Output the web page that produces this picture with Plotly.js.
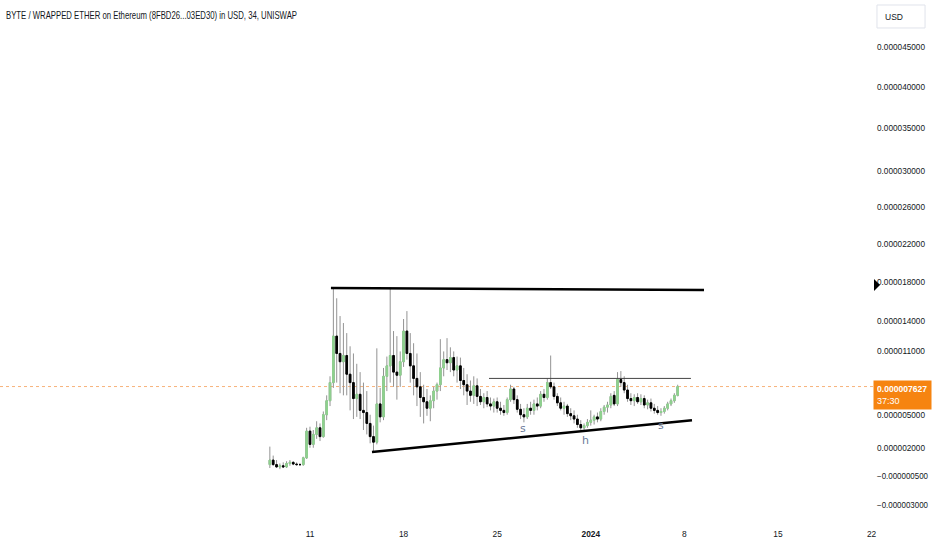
<!DOCTYPE html>
<html>
<head>
<meta charset="utf-8">
<script src="https://cdn.plot.ly/plotly-3.0.1.min.js"></script>
<style>
  html, body { margin: 0; padding: 0; background: #ffffff; }
  #chart { width: 932px; height: 550px; }
</style>
</head>
<body>
<div id="chart"></div>
<script>
// ---- data (prices in micro-USD, i.e. value * 1e-6) ----
const SCALE = 1e-6;
const START = Date.UTC(2023, 11, 8, 0, 0, 0);   // first candle open time
const STEP_HOURS = 6;                            // candle interval

const open = [0.5,0.9,0.5,0.3,0.4,0.3,0.6,0.7,0.55,0.5,
  0.5,1.1,3.5,2.3,3.2,3.8,3.0,5.0,6.3,8.0,
  12.5,10.8,10.0,10.6,8.8,8.0,6.5,6.9,5.4,5.2,
  4.2,3.0,2.5,6.0,4.8,8.6,9.6,10.6,9.0,8.7,
  10.0,13.0,10.8,9.6,8.4,7.6,6.6,6.2,5.6,6.3,
  7.2,7.8,9.4,10.2,9.9,10.4,9.2,9.6,8.2,7.8,
  7.2,6.8,7.7,6.7,6.2,6.6,6.0,5.8,6.2,5.6,
  5.4,5.2,6.4,7.4,6.4,5.5,5.0,4.8,5.6,5.4,
  6.0,5.8,6.9,6.6,8.0,7.6,6.7,6.1,5.6,5.8,
  5.1,4.9,4.6,4.1,3.8,4.0,4.3,4.5,4.8,4.6,
  5.3,5.7,5.9,6.8,6.0,8.3,8.0,7.3,6.5,6.3,
  6.6,6.2,6.5,5.9,6.1,5.6,5.4,5.2,5.3,5.6,
  6.0,6.3,6.8];
const high = [2.1,1.3,0.9,0.6,0.7,0.8,0.9,0.8,0.7,0.65,
  1.2,3.8,3.9,3.6,4.4,4.2,5.3,6.8,8.6,17.4,
  16.3,14.5,13.8,12.8,11.5,10.8,9.8,9.0,8.0,7.2,
  5.0,4.0,11.3,7.5,9.4,10.5,17.4,13.0,12.5,11.0,
  14.2,15.0,12.8,11.8,10.8,9.0,7.8,7.4,6.8,7.6,
  8.0,12.2,11.0,12.3,11.4,11.0,10.5,10.4,9.4,8.8,
  8.2,8.6,8.4,7.4,7.0,7.2,6.6,6.5,6.6,6.2,
  5.9,6.6,7.8,7.6,6.8,6.0,5.6,6.0,6.2,6.4,
  6.6,7.2,7.4,8.4,10.6,8.0,7.0,6.6,6.2,6.0,
  5.6,5.4,5.0,4.5,4.2,4.6,5.4,5.0,5.2,5.6,
  5.9,6.2,7.0,7.2,9.0,9.1,8.6,7.8,7.0,6.9,
  7.0,6.9,6.8,6.4,6.5,6.0,5.8,5.6,5.8,6.2,
  6.5,7.0,7.8];
const low = [0.2,0.4,0.2,0.1,0.2,0.2,0.4,0.45,0.4,0.4,
  0.4,1.0,2.0,2.0,2.8,2.6,2.9,4.5,5.8,7.5,
  8.0,7.0,6.8,6.8,5.4,4.6,4.8,4.6,3.6,3.2,
  2.4,1.7,2.3,4.3,4.5,7.2,8.0,7.6,6.4,7.6,
  9.5,10.2,8.0,6.8,5.8,4.8,4.2,4.9,4.4,5.6,
  6.4,7.2,8.6,9.2,9.0,8.6,8.0,7.4,6.8,5.9,
  6.2,6.0,5.8,5.9,5.6,5.7,5.4,5.2,5.2,5.0,
  4.9,5.0,6.2,6.0,5.2,4.6,4.3,4.6,5.0,5.0,
  5.4,5.6,6.2,6.4,7.4,6.4,5.8,5.4,5.0,4.8,
  4.5,4.2,3.8,3.6,3.5,3.8,4.0,4.1,4.3,4.4,
  5.0,5.2,5.6,5.8,5.8,7.6,7.0,6.2,5.9,5.8,
  6.0,5.9,5.6,5.5,5.3,5.1,5.0,4.9,5.1,5.4,
  5.8,6.1,6.7];
const close = [0.9,0.5,0.3,0.4,0.3,0.6,0.7,0.55,0.5,0.5,
  1.1,3.5,2.3,3.2,3.8,3.0,5.0,6.3,8.0,12.5,
  10.8,10.0,10.6,8.8,8.0,6.5,6.9,5.4,5.2,4.2,
  3.0,2.5,6.0,4.8,8.6,9.6,10.6,9.0,8.7,10.0,
  13.0,10.8,9.6,8.4,7.6,6.6,6.2,5.6,6.3,7.2,
  7.8,9.4,10.2,9.9,10.4,9.2,9.6,8.2,7.8,7.2,
  6.8,7.7,6.7,6.2,6.6,6.0,5.8,6.2,5.6,5.4,
  5.2,6.4,7.4,6.4,5.5,5.0,4.8,5.6,5.4,6.0,
  5.8,6.9,6.6,8.0,7.6,6.7,6.1,5.6,5.8,5.1,
  4.9,4.6,4.1,3.8,4.0,4.3,4.5,4.8,4.6,5.3,
  5.7,5.9,6.7,6.0,8.3,8.0,7.3,6.5,6.3,6.6,
  6.2,6.5,5.9,6.1,5.6,5.4,5.2,5.3,5.6,6.0,
  6.3,6.8,7.627];

// price axis ticks (micro-USD) and their labels
const yTickValues = [45, 40, 35, 30, 26, 22, 18, 14, 11, 5, 2, -0.5, -3];
const yTickLabels = ["0.000045000","0.000040000","0.000035000","0.000030000","0.000026000",
  "0.000022000","0.000018000","0.000014000","0.000011000","0.000005000","0.000002000",
  "\u22120.000000500","\u22120.000003000"];
// time axis ticks
const xTickDates = ["2023-12-11","2023-12-18","2023-12-25","2024-01-01","2024-01-08","2024-01-15","2024-01-22"];
const xTickLabels = ["11","18","25","<b>2024</b>","8","15","22"];

const LAST_PRICE = 7.627;
const LAST_PRICE_TEXT = "0.000007627";
const COUNTDOWN = "37:30";
const TITLE = "BYTE / WRAPPED ETHER on Ethereum (8FBD26...03ED30) in USD, 34, UNISWAP";

// drawings: [date, price(micro)]
const upperLine = [["2023-12-12 13:40", 17.35], ["2024-01-09 11:15", 17.15]];
const lowerLine = [["2023-12-15 15:20", 1.62], ["2024-01-08 13:40", 4.5]];
const neckLine  = [["2023-12-24 09:20", 8.4], ["2024-01-08 11:45", 8.4]];
const patternLabels = [["s", "2023-12-26 22:20", 3.75], ["h", "2023-12-31 15:20", 2.65], ["s", "2024-01-06 06:00", 4.0]];

// The price scale of the reference is a shifted log scale: log(price + OFFSET)
const OFFSET = 1e-4;
const Y = v => v * SCALE + OFFSET;          // data value for the log axis
const LY = v => Math.log10(Y(v));           // range / annotation coordinate

function fmt(ms) { return new Date(ms).toISOString().slice(0, 19).replace('T', ' '); }
const times = open.map((_, i) => fmt(START + i * STEP_HOURS * 3600 * 1000));

const FONT = "'Liberation Sans', Arial, sans-serif";
const wickGray = '#939393';

const wicks = {
  type: 'candlestick', x: times,
  open: open.map(Y), high: high.map(Y), low: low.map(Y), close: close.map(Y),
  increasing: { line: { color: wickGray, width: 1 }, fillcolor: wickGray },
  decreasing: { line: { color: wickGray, width: 1 }, fillcolor: wickGray },
  whiskerwidth: 0, showlegend: false, hoverinfo: 'skip'
};
const bodies = {
  type: 'candlestick', x: times,
  open: open.map(Y), close: close.map(Y),
  high: open.map((o, i) => Y(Math.max(o, close[i]))),
  low: open.map((o, i) => Y(Math.min(o, close[i]))),
  increasing: { line: { color: '#8fd18f', width: 1 }, fillcolor: '#8fd18f' },
  decreasing: { line: { color: '#000000', width: 1 }, fillcolor: '#000000' },
  whiskerwidth: 0, showlegend: false, hoverinfo: 'skip'
};

const shapes = [
  { type: 'line', xref: 'paper', yref: 'y', x0: 0, x1: 1, y0: Y(LAST_PRICE), y1: Y(LAST_PRICE),
    line: { color: '#f7b27a', width: 1, dash: 'dot' }, layer: 'below' },
  { type: 'line', xref: 'x', yref: 'y', x0: upperLine[0][0], y0: Y(upperLine[0][1]), x1: upperLine[1][0], y1: Y(upperLine[1][1]),
    line: { color: '#000000', width: 2.5 } },
  { type: 'line', xref: 'x', yref: 'y', x0: lowerLine[0][0], y0: Y(lowerLine[0][1]), x1: lowerLine[1][0], y1: Y(lowerLine[1][1]),
    line: { color: '#000000', width: 2.5 } },
  { type: 'line', xref: 'x', yref: 'y', x0: neckLine[0][0], y0: Y(neckLine[0][1]), x1: neckLine[1][0], y1: Y(neckLine[1][1]),
    line: { color: '#444444', width: 1 } },
  // marker on price scale
  { type: 'path', xref: 'paper', yref: 'paper', path: 'M 1.0 0.4696 L 1.0069 0.4582 L 1.0 0.4468 Z',
    fillcolor: '#000000', line: { width: 0 } },
  // USD box
  { type: 'rect', xref: 'paper', yref: 'paper', x0: 1.0034, x1: 1.0584, y0: 0.9468, y1: 0.9905,
    line: { color: '#e0e3eb', width: 1 }, fillcolor: '#ffffff' }
];

const annotations = [
  { xref: 'paper', yref: 'y', x: 1, xanchor: 'left', xshift: -1, y: LY(LAST_PRICE), yanchor: 'top', yshift: 7,
    text: '<b>' + LAST_PRICE_TEXT + '</b><br>' + COUNTDOWN, align: 'left', showarrow: false,
    font: { family: FONT, size: 9, color: '#ffffff' }, bgcolor: '#f68410', borderpad: 3, width: 51 },
  { xref: 'paper', yref: 'paper', x: 1.0103, xanchor: 'left', y: 0.9686, yanchor: 'middle',
    text: 'USD', showarrow: false, font: { family: FONT, size: 8.5, color: '#131722' } }
].concat(patternLabels.map(p => ({
  xref: 'x', yref: 'y', x: p[1], y: LY(p[2]), text: p[0], showarrow: false,
  font: { family: 'DejaVu Sans', size: 11, color: '#6b7a99' }
})));

const layout = {
  width: 932, height: 550,
  margin: { l: 0, r: 58, t: 0, b: 24 },
  paper_bgcolor: '#ffffff', plot_bgcolor: '#ffffff',
  font: { family: FONT, size: 9, color: '#131722' },
  title: { text: TITLE, font: { family: FONT, size: 11, color: '#131722' },
    xref: 'container', yref: 'container', x: 6 / 932, xanchor: 'left', y: 1 - 15 / 550, yanchor: 'middle' },
  showlegend: false,
  dragmode: false,
  xaxis: {
    type: 'date', range: ['2023-11-17 19:40', '2024-01-22 04:20'],
    tickvals: xTickDates, ticktext: xTickLabels, ticks: '',
    showgrid: false, zeroline: false, showline: false,
    rangeslider: { visible: false },
    tickfont: { family: FONT, size: 9.5, color: '#131722' }
  },
  yaxis: {
    type: 'log', side: 'right', range: [LY(-3) - (526 - 505) / 2623, LY(45) + 47 / 2623],
    tickvals: yTickValues.map(Y), ticktext: yTickLabels, ticks: '',
    showgrid: false, zeroline: false, showline: false, ticklabelstandoff: 2,
    tickfont: { family: FONT, size: 8.5, color: '#131722' }
  },
  shapes: shapes,
  annotations: annotations
};

// condense text slightly (the reference uses a narrow face that is not installed)
function squeeze(nodes, ratioOrFn) {
  nodes.forEach(t => {
    const w = t.getComputedTextLength();
    if (!w) return;
    const len = typeof ratioOrFn === 'function' ? ratioOrFn(t, w) : w * ratioOrFn;
    t.setAttribute('textLength', len.toFixed(1));
    t.setAttribute('lengthAdjust', 'spacingAndGlyphs');
  });
}

Plotly.newPlot('chart', [wicks, bodies], layout, { displayModeBar: false, staticPlot: true }).then(gd => {
  squeeze(gd.querySelectorAll('.gtitle'), (t, w) => 291);
  squeeze(gd.querySelectorAll('.ytick text'), (t, w) => Math.min(w, t.textContent.startsWith('\u2212') ? 51 : 48));
  squeeze(gd.querySelectorAll('.xtick text'), 0.88);
  squeeze(gd.querySelectorAll('.annotation-text tspan.line'), (t, w) => Math.min(w, 50));
});
</script>
</body>
</html>
